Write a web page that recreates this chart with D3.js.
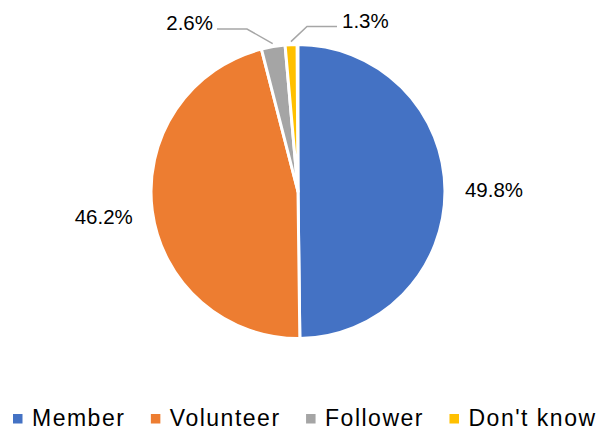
<!DOCTYPE html>
<html><head><meta charset="utf-8">
<script src="https://cdn.jsdelivr.net/npm/d3@7"></script>
<style>html,body{margin:0;padding:0;background:#fff;}svg{display:block;font-family:"Liberation Sans",Arial,sans-serif;}</style>
</head><body>
<svg id="c" width="603" height="429"></svg>
<script>
const categories = ["Member", "Volunteer", "Follower", "Don't know"];
const values = [49.8, 46.2, 2.6, 1.3];
const labels = ["49.8%", "46.2%", "2.6%", "1.3%"];
const colors = ["#4472C4", "#ED7D31", "#A5A5A5", "#FFC000"];

const svg = d3.select("#c");
const cx = 298, cy = 191.5, R = 147;
const g = svg.append("g").attr("transform", `translate(${cx},${cy})`);
const total = d3.sum(values);
const pie = d3.pie().sort(null).value(d => d).startAngle(0).endAngle(2*Math.PI*total/100);
const arcs = pie(values);
const arc = d3.arc().innerRadius(0).outerRadius(R);
g.selectAll("path").data(arcs).join("path")
  .attr("d", arc).attr("fill", (d,i) => colors[i])
  .attr("stroke", "#fff").attr("stroke-width", 3).attr("stroke-linejoin","round");

const mid = d => (d.startAngle + d.endAngle) / 2;
const pt = (a, r) => [Math.sin(a) * r, -Math.cos(a) * r];

// big slices: labels outside, no leader
[0, 1].forEach(i => {
  const [x, y] = pt(mid(arcs[i]), 196);
  g.append("text").attr("x", x).attr("y", y).attr("dy", "0.35em")
    .attr("text-anchor", "middle").attr("font-size", 20.5).attr("fill", "#000").text(labels[i]);
});

// small slices: leader lines
const leaders = [
  {i: 2, elbow: [-51, -162.5], end: -81, anchor: "end", tx: -85, ty: 1},
  {i: 3, elbow: [9, -165], end: 39, anchor: "start", tx: 44, ty: 1.5}
];
leaders.forEach(L => {
  const s = pt(mid(arcs[L.i]), R + 3);
  g.append("polyline")
    .attr("points", [s, L.elbow, [L.end, L.elbow[1]]].map(p => p.join(",")).join(" "))
    .attr("fill", "none").attr("stroke", "#A6A6A6").attr("stroke-width", 1.5);
  g.append("text").attr("x", L.tx).attr("y", L.elbow[1] + L.ty)
    .attr("text-anchor", L.anchor).attr("font-size", 20.5).attr("fill", "#000").text(labels[L.i]);
});

// legend
const lg = svg.append("g").attr("transform", "translate(13,425.5)");
let x = 0;
categories.forEach((c, i) => {
  lg.append("rect").attr("x", x).attr("y", -11.5).attr("width", 9.5).attr("height", 9.5).attr("fill", colors[i]);
  const t = lg.append("text").attr("x", x + 19).attr("y", 0).attr("font-size", 23)
    .attr("letter-spacing", 1.5).attr("fill", "#000").text(c);
  x += 19 + t.node().getComputedTextLength() + 25.5;
});
</script>
</body></html>
